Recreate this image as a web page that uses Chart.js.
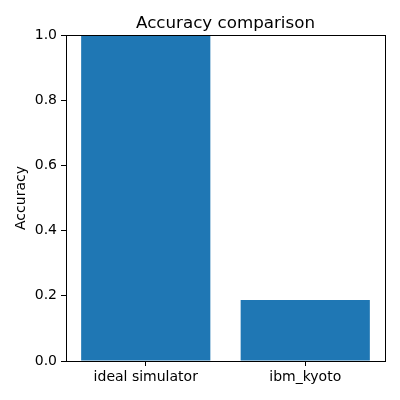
<!DOCTYPE html>
<html>
<head>
<meta charset="utf-8">
<script src="https://cdn.jsdelivr.net/npm/chart.js@4"></script>
<style>
  html, body { margin: 0; padding: 0; background: #fff; }
  #wrap { width: 400px; height: 400px; }
</style>
</head>
<body>
<div id="wrap"><canvas id="chart"></canvas></div>
<script>
  // ---- Data ----
  const categories = ["ideal simulator", "ibm_kyoto"];
  const accuracy = [1.0, 0.187];
  const yTicks = [0.0, 0.2, 0.4, 0.6, 0.8, 1.0];
  const chartTitle = "Accuracy comparison";

  const FONT = "'DejaVu Sans', sans-serif";
  const BAR = "#1f77b4";

  // plot frame (matplotlib spines) + title centred over the plot area
  const frame = {
    id: "frame",
    afterDatasetsDraw(chart) {
      const a = chart.chartArea;
      const ctx = chart.ctx;
      ctx.save();
      ctx.strokeStyle = "#000";
      ctx.lineWidth = 1;
      ctx.strokeRect(Math.round(a.left) + 0.5, Math.round(a.top) + 0.5,
        Math.round(a.right - a.left), Math.round(a.bottom - a.top));
      ctx.fillStyle = "#000";
      ctx.font = "16.7px " + FONT;
      ctx.textAlign = "center";
      ctx.textBaseline = "alphabetic";
      ctx.fillText(chartTitle, (a.left + a.right) / 2, a.top - 7);
      ctx.restore();
    },
  };

  new Chart(document.getElementById("chart"), {
    type: "bar",
    data: {
      labels: categories,
      datasets: [{
        data: accuracy,
        backgroundColor: BAR,
        borderWidth: 0,
        barPercentage: 0.81,
        categoryPercentage: 1.0,
      }],
    },
    options: {
      responsive: true,
      maintainAspectRatio: false,
      animation: false,
      layout: { padding: { left: 0, right: 15, top: 35, bottom: 0 } },
      plugins: {
        legend: { display: false },
        tooltip: { enabled: false },
        title: { display: false },
      },
      scales: {
        x: {
          grid: { display: true, drawOnChartArea: false, offset: false, tickLength: 5, color: "#000" },
          border: { display: false },
          ticks: {
            color: "#000",
            font: { family: FONT, size: 14 },
            padding: 3,
            maxRotation: 0,
          },
          afterFit(s) { s.height = 39; },
        },
        y: {
          min: 0,
          max: 1,
          afterBuildTicks(s) { s.ticks = yTicks.map((v) => ({ value: v })); },
          grid: { display: true, drawOnChartArea: false, tickLength: 5, color: "#000" },
          border: { display: false },
          ticks: {
            color: "#000",
            font: { family: FONT, size: 14 },
            padding: 4,
            callback: (v) => Number(v).toFixed(1),
          },
          title: {
            display: true,
            text: "Accuracy",
            color: "#000",
            font: { family: FONT, size: 14 },
            padding: { top: 12.6, bottom: 0 },
          },
          afterFit(s) { s.width = 66; },
        },
      },
    },
    plugins: [frame],
  });
</script>
</body>
</html>
